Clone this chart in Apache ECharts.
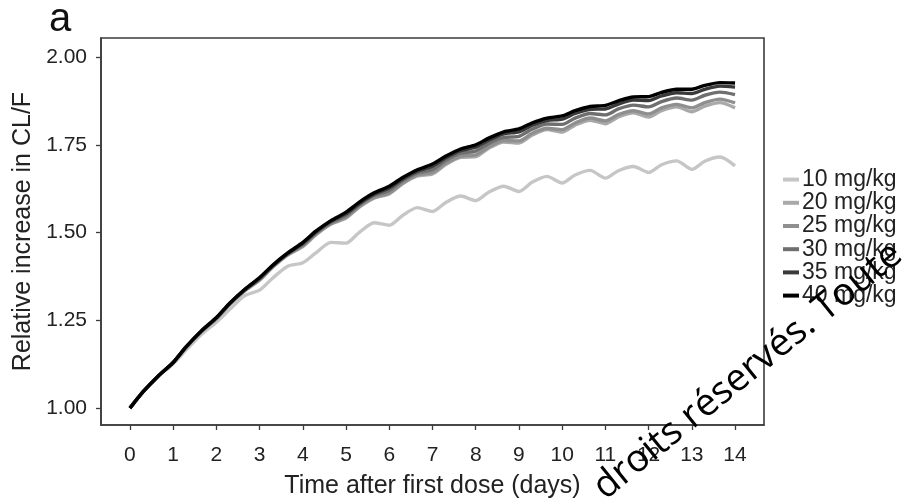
<!DOCTYPE html>
<html>
<head>
<meta charset="utf-8">
<script src="https://cdn.jsdelivr.net/npm/echarts@6/dist/echarts.min.js"></script>
<style>
  html, body { margin: 0; padding: 0; background: #fff; }
  #chart { width: 912px; height: 504px; }
</style>
</head>
<body>
<div id="chart"></div>
<script>
// Time after the first dose (days): trough at each daily dose, then two points within the day
const days = [
  0, 0.3, 0.65, 1, 1.3, 1.65, 2, 2.3, 2.65, 3, 3.3, 3.65, 4, 4.3, 4.65,
  5, 5.3, 5.65, 6, 6.3, 6.65, 7, 7.3, 7.65, 8, 8.3, 8.65, 9, 9.3, 9.65,
  10, 10.3, 10.65, 11, 11.3, 11.65, 12, 12.3, 12.65, 13, 13.3, 13.65, 14
];

// Relative increase in CL/F for each dose level
const cl10 = [
  1.000, 1.045, 1.090, 1.126, 1.166, 1.210, 1.245, 1.280, 1.320, 1.336, 1.370, 1.404,
  1.414, 1.442, 1.472, 1.470, 1.500, 1.528, 1.521, 1.548, 1.571, 1.560, 1.585, 1.604,
  1.591, 1.615, 1.632, 1.617, 1.643, 1.660, 1.641, 1.664, 1.677, 1.655, 1.676, 1.688,
  1.671, 1.693, 1.704, 1.680, 1.703, 1.715, 1.690
];
const cl20 = [
  1.000, 1.046, 1.091, 1.130, 1.173, 1.217, 1.254, 1.294, 1.333, 1.364, 1.401, 1.436,
  1.460, 1.493, 1.524, 1.541, 1.572, 1.598, 1.610, 1.638, 1.661, 1.667, 1.693, 1.714,
  1.716, 1.740, 1.758, 1.755, 1.777, 1.793, 1.786, 1.806, 1.820, 1.810, 1.829, 1.841,
  1.829, 1.847, 1.858, 1.844, 1.860, 1.870, 1.855
];
const cl25 = [
  1.000, 1.046, 1.091, 1.130, 1.174, 1.218, 1.255, 1.295, 1.335, 1.366, 1.402, 1.437,
  1.462, 1.495, 1.525, 1.544, 1.574, 1.600, 1.613, 1.640, 1.664, 1.671, 1.697, 1.718,
  1.721, 1.744, 1.762, 1.761, 1.782, 1.797, 1.793, 1.812, 1.826, 1.818, 1.836, 1.847,
  1.838, 1.855, 1.865, 1.855, 1.870, 1.880, 1.869
];
const cl30 = [
  1.000, 1.046, 1.091, 1.130, 1.174, 1.218, 1.256, 1.296, 1.335, 1.368, 1.404, 1.440,
  1.466, 1.499, 1.529, 1.549, 1.579, 1.606, 1.620, 1.647, 1.670, 1.680, 1.705, 1.726,
  1.732, 1.754, 1.771, 1.774, 1.794, 1.809, 1.808, 1.826, 1.839, 1.835, 1.852, 1.863,
  1.858, 1.873, 1.883, 1.877, 1.891, 1.900, 1.893
];
const cl35 = [
  1.000, 1.046, 1.091, 1.130, 1.174, 1.219, 1.257, 1.297, 1.336, 1.370, 1.405, 1.440,
  1.469, 1.501, 1.532, 1.554, 1.582, 1.609, 1.627, 1.652, 1.675, 1.689, 1.712, 1.733,
  1.743, 1.763, 1.781, 1.787, 1.805, 1.819, 1.823, 1.839, 1.851, 1.852, 1.866, 1.877,
  1.876, 1.889, 1.898, 1.896, 1.908, 1.917, 1.914
];
const cl40 = [
  1.000, 1.046, 1.091, 1.130, 1.175, 1.220, 1.258, 1.298, 1.338, 1.372, 1.407, 1.442,
  1.472, 1.504, 1.534, 1.558, 1.586, 1.613, 1.632, 1.656, 1.679, 1.695, 1.717, 1.738,
  1.750, 1.769, 1.787, 1.795, 1.812, 1.826, 1.832, 1.847, 1.859, 1.862, 1.875, 1.886,
  1.887, 1.899, 1.908, 1.908, 1.919, 1.927, 1.926
];

const doseNames = ['10 mg/kg', '20 mg/kg', '25 mg/kg', '30 mg/kg', '35 mg/kg', '40 mg/kg'];
const doseValues = [cl10, cl20, cl25, cl30, cl35, cl40];
const doseColors = ['#c6c6c6', '#a9a9a9', '#8f8f8f', '#6f6f6f', '#3a3a3a', '#000000'];

const xTicks = [0, 1, 2, 3, 4, 5, 6, 7, 8, 9, 10, 11, 12, 13, 14];
const yTicks = [1.00, 1.25, 1.50, 1.75, 2.00];

const FONT = '"Liberation Sans", Arial, Helvetica, sans-serif';
const INK = '#222222';
const FRAME = '#3c3c3c';

const chart = echarts.init(document.getElementById('chart'), null, { renderer: 'canvas' });

const series = doseNames.map((name, i) => ({
  name: name,
  type: 'line',
  data: days.map((t, j) => [t, doseValues[i][j]]),
  showSymbol: false,
  smooth: 0.25,
  lineStyle: { color: doseColors[i], width: 3.4 },
  itemStyle: { color: doseColors[i] },
  z: 2 + i,
  silent: true
}));

chart.setOption({
  animation: false,
  backgroundColor: '#ffffff',
  grid: {
    left: 101, top: 38, right: 148, bottom: 76,
    show: true, borderColor: FRAME, borderWidth: 1.6, backgroundColor: 'transparent'
  },
  xAxis: {
    type: 'value',
    min: -0.67, max: 14.67,
    name: 'Time after first dose (days)',
    nameLocation: 'middle',
    nameGap: 49,
    nameTextStyle: { fontFamily: FONT, fontSize: 25, color: INK },
    axisLine: { show: true, onZero: false, lineStyle: { color: FRAME, width: 1.6 } },
    axisTick: { show: true, inside: false, length: 5, customValues: xTicks,
      lineStyle: { color: FRAME, width: 1.3 } },
    axisLabel: { customValues: xTicks, margin: 20, fontFamily: FONT, fontSize: 21, color: INK },
    splitLine: { show: false }
  },
  yAxis: {
    type: 'value',
    min: 0.952, max: 2.054,
    name: 'Relative increase in CL/F',
    nameLocation: 'middle',
    nameGap: 64,
    nameTextStyle: { fontFamily: FONT, fontSize: 25, color: INK },
    axisLine: { show: true, onZero: false, lineStyle: { color: FRAME, width: 1.6 } },
    axisTick: { show: true, inside: false, length: 5, customValues: yTicks,
      lineStyle: { color: FRAME, width: 1.3 } },
    axisLabel: { customValues: yTicks, margin: 14, fontFamily: FONT, fontSize: 21, color: INK,
      formatter: v => v.toFixed(2) },
    splitLine: { show: false }
  },
  legend: {
    orient: 'vertical',
    left: 783, top: 168,
    itemGap: 0,
    itemWidth: 16, itemHeight: 4,
    icon: 'rect',
    padding: 0,
    textStyle: { fontFamily: FONT, fontSize: 23, color: INK, lineHeight: 23.2, padding: [0, 0, 0, -2] },
    data: doseNames.map((n, i) => ({ name: n, itemStyle: { color: doseColors[i] } }))
  },
  graphic: [
    {
      type: 'text', left: 49, top: 0,
      style: { text: 'a', fontFamily: FONT, fontSize: 40, fill: '#111' }
    },
    {
      type: 'text', x: 748, y: 371, rotation: 0.68,
      style: { text: 'droits réservés. Toute', fontFamily: '"Open Sans", sans-serif',
        fontSize: 38, fill: '#000', align: 'center', verticalAlign: 'middle' },
      z: 100
    }
  ],
  series: series
});
</script>
</body>
</html>
